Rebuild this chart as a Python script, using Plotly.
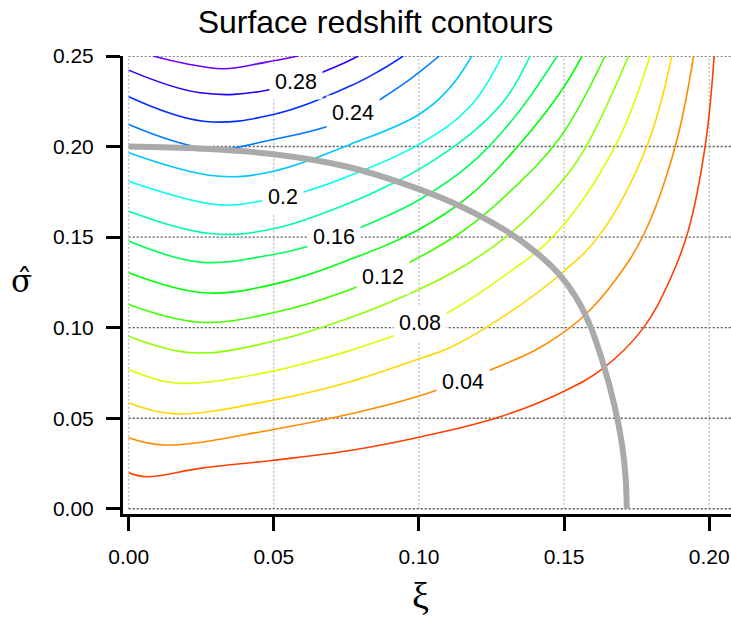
import colorsys
import plotly.graph_objects as go

# ---------------- data ----------------
levels = [0.02, 0.04, 0.06, 0.08, 0.10, 0.12, 0.14, 0.16, 0.18, 0.20, 0.22, 0.24, 0.26, 0.28, 0.30]

xi_002 = [0.0, 0.0062, 0.0246, 0.0500, 0.0763, 0.1000, 0.1269, 0.1500, 0.1634, 0.1772, 0.1865, 0.1927, 0.1986, 0.2017]
sg_002 = [0.0199, 0.0177, 0.0223, 0.0268, 0.0322, 0.0395, 0.0502, 0.0649, 0.0775, 0.0996, 0.1266, 0.1531, 0.2002, 0.2500]

xi_004 = [0.0, 0.0125, 0.0500, 0.0763, 0.1000, 0.1273, 0.1400, 0.1486, 0.1572, 0.1676, 0.1776, 0.1883, 0.1946]
sg_004 = [0.0392, 0.0352, 0.0438, 0.0523, 0.0622, 0.0784, 0.0875, 0.0960, 0.1070, 0.1262, 0.1520, 0.2002, 0.2500]

xi_006 = [0.0, 0.0153, 0.0498, 0.0763, 0.1004, 0.1100, 0.1297, 0.1490, 0.1624, 0.1785, 0.1871]
sg_006 = [0.0585, 0.0525, 0.0600, 0.0701, 0.0830, 0.0885, 0.1068, 0.1299, 0.1515, 0.2002, 0.2500]

xi_008 = [0.0, 0.0131, 0.0246, 0.0498, 0.0682, 0.0763, 0.0906, 0.1000, 0.1107, 0.1297, 0.1472, 0.1676, 0.1796]
sg_008 = [0.0769, 0.0701, 0.0696, 0.0760, 0.0835, 0.0874, 0.0951, 0.1010, 0.1090, 0.1290, 0.1520, 0.2002, 0.2500]

xi_010 = [0.0, 0.0223, 0.0498, 0.0745, 0.1000, 0.1149, 0.1303, 0.1472, 0.1572, 0.1722]
sg_010 = [0.0953, 0.0861, 0.0925, 0.1045, 0.1211, 0.1335, 0.1505, 0.1770, 0.1990, 0.2500]

xi_012 = [0.0, 0.0246, 0.0498, 0.0763, 0.0975, 0.1149, 0.1314, 0.1486, 0.1641]
sg_012 = [0.1128, 0.1030, 0.1082, 0.1211, 0.1367, 0.1531, 0.1752, 0.2050, 0.2500]

xi_014 = [0.0, 0.0257, 0.0498, 0.0763, 0.1000, 0.1176, 0.1331, 0.1486, 0.1562]
sg_014 = [0.1303, 0.1193, 0.1239, 0.1377, 0.1542, 0.1730, 0.1984, 0.2297, 0.2500]

xi_016 = [0.0, 0.0246, 0.0498, 0.0613, 0.0763, 0.0831, 0.1000, 0.1176, 0.1331, 0.1476]
sg_016 = [0.1478, 0.1362, 0.1404, 0.1447, 0.1530, 0.1575, 0.1705, 0.1901, 0.2166, 0.2500]

xi_018 = [0.0, 0.0280, 0.0498, 0.0763, 0.0855, 0.1000, 0.1176, 0.1297, 0.1383]
sg_018 = [0.1643, 0.1520, 0.1546, 0.1690, 0.1755, 0.1874, 0.2067, 0.2260, 0.2500]

xi_020 = [0.0, 0.0303, 0.0458, 0.0608, 0.0763, 0.1000, 0.1176, 0.1286]
sg_020 = [0.1809, 0.1680, 0.1699, 0.1752, 0.1840, 0.2012, 0.2221, 0.2500]

xi_022 = [0.0, 0.0303, 0.0498, 0.0763, 0.1000, 0.1107, 0.1182]
sg_022 = [0.1966, 0.1837, 0.1864, 0.2012, 0.2177, 0.2326, 0.2500]

xi_024 = [0.0, 0.0280, 0.0498, 0.0682, 0.0763, 0.0866, 0.0969, 0.1070]
sg_024 = [0.2122, 0.1988, 0.2039, 0.2109, 0.2160, 0.2260, 0.2371, 0.2500]

xi_026 = [0.0, 0.0257, 0.0498, 0.0763, 0.0866, 0.0946]
sg_026 = [0.2275, 0.2140, 0.2177, 0.2334, 0.2420, 0.2500]

xi_028 = [0.0, 0.0246, 0.0476, 0.0705, 0.0791]
sg_028 = [0.2422, 0.2297, 0.2311, 0.2435, 0.2500]

xi_030 = [0.0084, 0.0194, 0.0326, 0.0470, 0.0584]
sg_030 = [0.2500, 0.2459, 0.2430, 0.2465, 0.2500]

contour_xi = [xi_002, xi_004, xi_006, xi_008, xi_010, xi_012, xi_014, xi_016,
              xi_018, xi_020, xi_022, xi_024, xi_026, xi_028, xi_030]
contour_sg = [sg_002, sg_004, sg_006, sg_008, sg_010, sg_012, sg_014, sg_016,
              sg_018, sg_020, sg_022, sg_024, sg_026, sg_028, sg_030]

# contour labels
label_text = ["0.28", "0.24", "0.2", "0.16", "0.12", "0.08", "0.04"]
label_xi = [0.0577, 0.0773, 0.0532, 0.0709, 0.0875, 0.1004, 0.1152]
label_sg = [0.2357, 0.2188, 0.1722, 0.1499, 0.1280, 0.1023, 0.0700]

# grey boundary curve
boundary_xi = [0.0, 0.0250, 0.0500, 0.0750, 0.1000, 0.1150, 0.1300, 0.1400, 0.1480,
               0.1540, 0.1590, 0.1635, 0.1675, 0.1700, 0.1712, 0.1716]
boundary_sg = [0.2000, 0.1988, 0.1958, 0.1890, 0.1765, 0.1665, 0.1535, 0.1420, 0.1300,
               0.1170, 0.1010, 0.0800, 0.0560, 0.0350, 0.0170, 0.0]

x_ticks = [0.0, 0.05, 0.10, 0.15, 0.20]
x_ticktext = ["0.00", "0.05", "0.10", "0.15", "0.20"]
y_ticks = [0.0, 0.05, 0.10, 0.15, 0.20, 0.25]
y_ticktext = ["0.00", "0.05", "0.10", "0.15", "0.20", "0.25"]

# ---------------- styling ----------------
W, H = 731, 618
ML, MR, MT, MB = 123, 0, 56, 104
X_RANGE = [-0.00196, 0.2075]
Y_RANGE = [-0.0029, 0.25]
PW, PH = W - ML - MR, H - MT - MB


def level_color(k, n):
    hue = (15 + k * (250.0 / (n - 1))) / 360.0
    r, g, b = colorsys.hsv_to_rgb(hue, 1.0, 1.0)
    return "rgb(%d,%d,%d)" % (round(r * 255), round(g * 255), round(b * 255))


def px_to_paper(px, py):
    return (px - ML) / PW, (H - MB - py) / PH


SANS = "Liberation Sans, Arial, Helvetica, sans-serif"
SERIF = "Liberation Serif, Times New Roman, DejaVu Serif, serif"

fig = go.Figure()

n = len(levels)
for k in range(n):
    fig.add_trace(go.Scatter(
        x=contour_xi[k], y=contour_sg[k], mode="lines",
        line=dict(color=level_color(k, n), width=1.6, shape="spline", smoothing=1.1),
        hoverinfo="skip", showlegend=False, name=str(levels[k])))

fig.add_trace(go.Scatter(
    x=boundary_xi, y=boundary_sg, mode="lines",
    line=dict(color="#aaaaaa", width=6, shape="spline", smoothing=1.0),
    hoverinfo="skip", showlegend=False))

shapes = []
for yv in y_ticks:
    shapes.append(dict(type="line", xref="x", yref="y", x0=0, x1=X_RANGE[1], y0=yv, y1=yv,
                       line=dict(color="#555555", width=1.4, dash="2px,2px"), layer="below"))
for xv in x_ticks:
    shapes.append(dict(type="line", xref="x", yref="y", x0=xv, x1=xv, y0=0, y1=0.25,
                       line=dict(color="#aaaaaa", width=1, dash="2px,2px"), layer="below"))

annotations = []
for t, xv, yv in zip(label_text, label_xi, label_sg):
    annotations.append(dict(x=xv, y=yv, xref="x", yref="y", text=t, showarrow=False,
                            font=dict(family=SANS, size=21.5, color="black"),
                            bgcolor="white", borderpad=5, xanchor="center", yanchor="middle"))

ax, ay = px_to_paper(420, 596)
annotations.append(dict(x=ax, y=ay, xref="paper", yref="paper", text="ξ", showarrow=False,
                        font=dict(family=SERIF, size=38, color="black"),
                        xanchor="center", yanchor="middle"))
sx, sy = px_to_paper(21, 281)
annotations.append(dict(x=sx, y=sy, xref="paper", yref="paper", text="σ\u0302", showarrow=False,
                        font=dict(family="DejaVu Serif, serif", size=31, color="black"),
                        xanchor="center", yanchor="middle"))

fig.update_layout(
    width=W, height=H,
    margin=dict(l=ML, r=MR, t=MT, b=MB, autoexpand=False),
    paper_bgcolor="white", plot_bgcolor="white",
    title=dict(text="Surface redshift contours", x=375.5 / W, xref="container", xanchor="center",
               y=1 - 22 / H, yref="container", yanchor="middle",
               font=dict(family=SANS, size=32, color="black")),
    xaxis=dict(range=X_RANGE, showgrid=False, zeroline=False, showline=True, linewidth=3,
               linecolor="black", ticks="outside", ticklen=14, tickwidth=2.5, tickcolor="black",
               tickvals=x_ticks, ticktext=x_ticktext, ticklabelstandoff=8,
               tickfont=dict(family=SANS, size=21, color="black"), fixedrange=True),
    yaxis=dict(range=Y_RANGE, showgrid=False, zeroline=False, showline=True, linewidth=3,
               linecolor="black", ticks="outside", ticklen=14, tickwidth=2.5, tickcolor="black",
               tickvals=y_ticks, ticktext=y_ticktext, ticklabelstandoff=8,
               tickfont=dict(family=SANS, size=21, color="black"), fixedrange=True),
    shapes=shapes, annotations=annotations, showlegend=False,
)

fig.write_html("out.html")
